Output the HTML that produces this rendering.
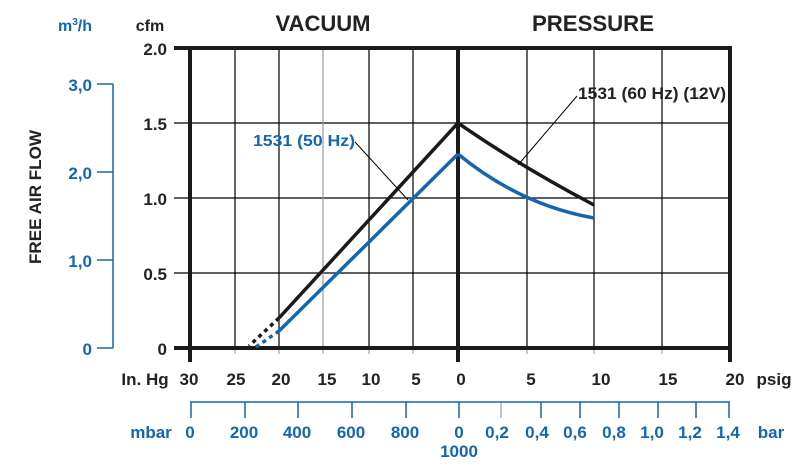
<!DOCTYPE html>
<html><head><meta charset="utf-8"><style>
html,body{margin:0;padding:0;background:#fff;}
svg{display:block;font-family:"Liberation Sans",Arial,sans-serif;font-weight:bold;}
</style></head><body>
<svg width="808" height="476" viewBox="0 0 808 476" xmlns="http://www.w3.org/2000/svg">
<g stroke="#000" stroke-width="1.2">
<line x1="235" y1="48" x2="235" y2="348"/>
<line x1="279" y1="48" x2="279" y2="348"/>
<line x1="369" y1="48" x2="369" y2="348"/>
<line x1="413" y1="48" x2="413" y2="348"/>
<line x1="527" y1="48" x2="527" y2="348"/>
<line x1="594" y1="48" x2="594" y2="348"/>
<line x1="662" y1="48" x2="662" y2="348"/>
<line x1="174" y1="123" x2="730" y2="123"/>
<line x1="174" y1="198" x2="730" y2="198"/>
<line x1="174" y1="273" x2="730" y2="273"/>
</g>
<line x1="323" y1="48" x2="323" y2="348" stroke="#999" stroke-width="1.2"/>
<g stroke="#999" stroke-width="1">
<line x1="235" y1="348" x2="235" y2="354"/><line x1="279" y1="348" x2="279" y2="354"/>
<line x1="323" y1="348" x2="323" y2="354"/><line x1="369" y1="348" x2="369" y2="354"/>
<line x1="413" y1="348" x2="413" y2="354"/><line x1="527" y1="348" x2="527" y2="354"/>
<line x1="594" y1="348" x2="594" y2="354"/><line x1="662" y1="348" x2="662" y2="354"/>
</g>
<g stroke="#1a1a1a" stroke-width="4" fill="none">
<line x1="174" y1="48" x2="732" y2="48"/>
<line x1="174" y1="348" x2="732" y2="348"/>
<line x1="190" y1="46" x2="190" y2="362"/>
<line x1="458" y1="46" x2="458" y2="362"/>
<line x1="730" y1="46" x2="730" y2="362"/>
</g>
<polyline points="279,318 458,123" fill="none" stroke="#1a1a1a" stroke-width="3.5"/>
<line x1="279" y1="318" x2="249" y2="346" stroke="#1a1a1a" stroke-width="3.5" stroke-dasharray="4,4"/>
<path d="M458,123 Q 520,166 594,205" fill="none" stroke="#1a1a1a" stroke-width="3.5"/>
<polyline points="279,331 458,154" fill="none" stroke="#1466b0" stroke-width="3.5"/>
<line x1="279" y1="331" x2="256" y2="347" stroke="#1466b0" stroke-width="3.5" stroke-dasharray="4,4"/>
<path d="M458,154 Q 520,205 594,218" fill="none" stroke="#1466b0" stroke-width="3.5"/>
<line x1="355" y1="142" x2="408" y2="200" stroke="#000" stroke-width="1"/>
<line x1="577" y1="96" x2="518" y2="165" stroke="#000" stroke-width="1"/>
<text x="253" y="146" font-size="16" fill="#1466b0" textLength="102" lengthAdjust="spacingAndGlyphs">1531 (50 Hz)</text>
<text x="578" y="99" font-size="16.5" fill="#222" textLength="148" lengthAdjust="spacingAndGlyphs">1531 (60 Hz) (12V)</text>
<text x="323" y="31" font-size="22" text-anchor="middle" fill="#222" textLength="95" lengthAdjust="spacingAndGlyphs">VACUUM</text>
<text x="593" y="31" font-size="22" text-anchor="middle" fill="#222" textLength="122" lengthAdjust="spacingAndGlyphs">PRESSURE</text>
<text x="150" y="31" font-size="16" text-anchor="middle" fill="#222">cfm</text>
<text x="75" y="31" font-size="16" text-anchor="middle" fill="#1466b0">m<tspan font-size="10" dy="-6">3</tspan><tspan dy="6">/h</tspan></text>
<text transform="translate(41,197) rotate(-90)" font-size="16.5" text-anchor="middle" fill="#222" textLength="134" lengthAdjust="spacingAndGlyphs">FREE AIR FLOW</text>
<g font-size="17" fill="#222" text-anchor="end">
<text x="167" y="55">2.0</text><text x="167" y="130">1.5</text>
<text x="167" y="205">1.0</text><text x="167" y="280">0.5</text><text x="167" y="355">0</text>
</g>
<g stroke="#1466b0" stroke-width="1.5">
<line x1="113" y1="84" x2="113" y2="348"/>
<line x1="97" y1="84" x2="113" y2="84"/><line x1="97" y1="172" x2="113" y2="172"/>
<line x1="97" y1="260" x2="113" y2="260"/><line x1="97" y1="348" x2="113" y2="348"/>
</g>
<g font-size="17" fill="#1466b0" text-anchor="end">
<text x="92" y="91">3,0</text><text x="92" y="179">2,0</text>
<text x="92" y="267">1,0</text><text x="92" y="355">0</text>
</g>
<g font-size="17" fill="#222" text-anchor="middle">
<text x="145" y="385">In. Hg</text>
<text x="189" y="385">30</text><text x="236" y="385">25</text><text x="281" y="385">20</text>
<text x="327" y="385">15</text><text x="371" y="385">10</text><text x="416" y="385">5</text>
<text x="461" y="385">0</text><text x="531" y="385">5</text><text x="601" y="385">10</text>
<text x="668" y="385">15</text><text x="735" y="385">20</text><text x="774" y="385">psig</text>
</g>
<g stroke="#1466b0" stroke-width="1.5">
<line x1="190" y1="402" x2="730" y2="402"/>
<line x1="191" y1="402" x2="191" y2="418"/><line x1="245" y1="402" x2="245" y2="418"/>
<line x1="298" y1="402" x2="298" y2="418"/><line x1="352" y1="402" x2="352" y2="418"/>
<line x1="406" y1="402" x2="406" y2="418"/><line x1="459" y1="402" x2="459" y2="418"/>
<line x1="541" y1="402" x2="541" y2="418"/><line x1="580" y1="402" x2="580" y2="418"/>
<line x1="619" y1="402" x2="619" y2="418"/><line x1="658" y1="402" x2="658" y2="418"/>
<line x1="696" y1="402" x2="696" y2="418"/><line x1="729" y1="402" x2="729" y2="418"/>
</g>
<line x1="501" y1="402" x2="501" y2="418" stroke="#888" stroke-width="1"/>
<g font-size="17" fill="#1466b0" text-anchor="middle">
<text x="151" y="438">mbar</text>
<text x="190" y="438">0</text><text x="244" y="438">200</text><text x="297" y="438">400</text>
<text x="351" y="438">600</text><text x="405" y="438">800</text><text x="459" y="438">0</text>
<text x="459" y="457">1000</text>
<text x="497" y="438">0,2</text><text x="537" y="438">0,4</text><text x="575" y="438">0,6</text>
<text x="614" y="438">0,8</text><text x="652" y="438">1,0</text><text x="690" y="438">1,2</text>
<text x="728" y="438">1,4</text><text x="771" y="438">bar</text>
</g>
</svg>
</body></html>
